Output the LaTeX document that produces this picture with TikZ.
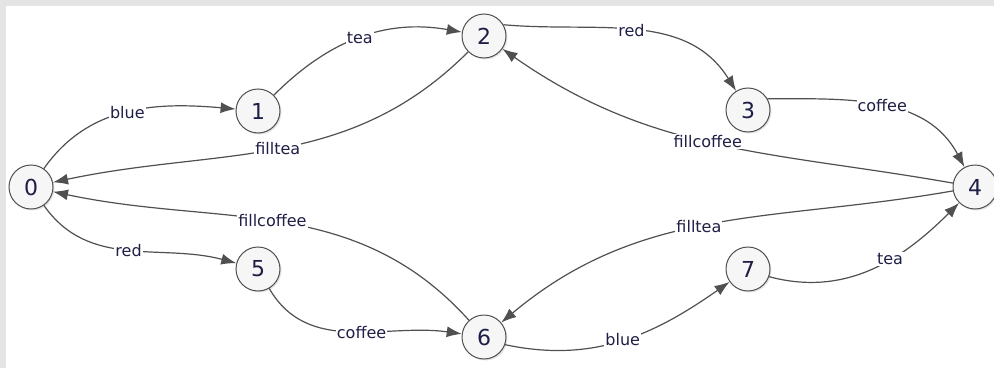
\documentclass[tikz,border=0pt]{standalone}
\usepackage{fontspec}
\setmainfont{DejaVu Sans}
\usetikzlibrary{arrows.meta,shadows}
\definecolor{ink}{HTML}{1E1E46}
\definecolor{edge}{HTML}{505050}
\definecolor{frame}{HTML}{E4E4E4}
\tikzstyle{state} = [circle, draw=edge, line width=1pt, fill=gray!7, minimum size=44pt, inner sep=0pt, text=ink, font=\fontsize{22}{24}\selectfont, drop shadow={opacity=0.2, shadow xshift=1.5pt, shadow yshift=-1.5pt}]
\tikzstyle{line} = [draw=edge, line width=1.2pt, -{Latex[length=15pt,width=11pt]}]
\tikzstyle{lbl} = [fill=white, inner sep=1pt, text=ink, font=\fontsize{16}{18}\selectfont]

\begin{document}
\begin{tikzpicture}[x=1pt, y=1pt]
	\useasboundingbox (0,0) rectangle (994,368);
	\fill[white] (0,0) rectangle (994,368);
	\fill[frame] (0,362) rectangle (994,368);
	\fill[frame] (0,0) rectangle (6,368);

	\node [state] (s0) at (31,181) {0};
	\node [state] (s1) at (258,257) {1};
	\node [state] (s2) at (484,332) {2};
	\node [state] (s3) at (748,258) {3};
	\node [state] (s4) at (975,181) {4};
	\node [state] (s5) at (258,99) {5};
	\node [state] (s6) at (484,31) {6};
	\node [state] (s7) at (748,99) {7};

	% upper branch
	\path[line] (s0) to[out=55, in=175] node[lbl, pos=0.5] {blue} (s1);
	\path[line] (s1) to[out=45, in=170] node[lbl, pos=0.5] {tea} (s2);
	\path[line] (s2.30) to[out=-5, in=122] node[lbl, pos=0.48] {red} (s3);
	\path[line] (s3.30) to[out=0, in=118] node[lbl, pos=0.5] {coffee} (s4);
	\path[line] (s4) to[out=170, in=-35] node[lbl, pos=0.52] {fillcoffee} (s2);
	\path[line] (s2) to[out=-135, in=12] node[lbl, pos=0.5] {filltea} (s0);

	% lower branch
	\path[line] (s0) to[out=-55, in=165] node[lbl, pos=0.5] {red} (s5);
	\path[line] (s5) to[out=-60, in=172] node[lbl, pos=0.55] {coffee} (s6);
	\path[line] (s6) to[out=132, in=-12] node[lbl, pos=0.52] {fillcoffee} (s0);
	\path[line] (s6.-20) to[out=-12, in=-145] node[lbl, pos=0.5] {blue} (s7);
	\path[line] (s7.-20) to[out=-15, in=-135] node[lbl, pos=0.6] {tea} (s4);
	\path[line] (s4) to[out=-170, in=40] node[lbl, pos=0.53] {filltea} (s6);
\end{tikzpicture}
\end{document}
